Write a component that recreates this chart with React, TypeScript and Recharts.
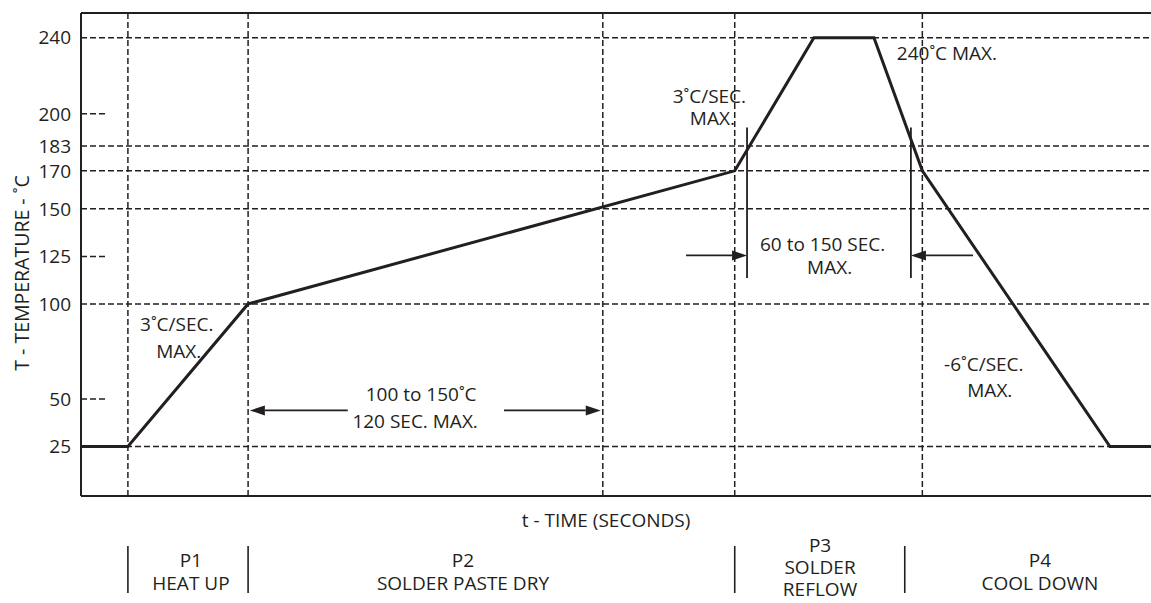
import React from 'react';
import { LineChart, Line, XAxis, YAxis, ReferenceLine, ReferenceDot } from 'recharts';

const INK = '#231f20';
const FONT = '"Open Sans", sans-serif';
const FS = 19;

// reflow profile: time (s) and temperature (°C)
const profileTime = [0, 16, 57, 223, 250, 270.5, 287, 351, 365];
const profileTemp = [25, 25, 100, 170, 240, 240, 170, 25, 25];

const tempTicks = [25, 50, 100, 125, 150, 170, 183, 200, 240];
const fullTempLines = [25, 100, 150, 170, 183, 240];
const shortTempLines = [50, 125, 200];
const timeLines = [16, 57, 178, 223, 287];

const phaseNames = ['P1', 'P2', 'P3', 'P4'];
const phaseDesc = [['HEAT UP'], ['SOLDER PASTE DRY'], ['SOLDER', 'REFLOW'], ['COOL DOWN']];
const phaseCenters = [37.5, 130.3, 252.1, 327.1];
const phaseBounds = [16, 57, 223, 281];

// annotation arrows (tail -> tip) and the marker bars
const arrows = [
  { from: [91, 44], to: [57.6, 44] },
  { from: [144.3, 44], to: [177.3, 44] },
  { from: [206.4, 125.5], to: [227.2, 125.5] },
  { from: [304.3, 125.5], to: [283.1, 125.5] },
];
const bars = [227.2, 283.1];
const barSpan = [113.6, 192.8];

// text blocks: anchor is the first line's centre
const notes = [
  { t: 33, temp: 89.2, lines: ['3˚C/SEC.', 'MAX.'], shift: [-1, 1], gap: 27 },
  { t: 115, temp: 52.4, lines: ['100 to 150˚C', '120 SEC. MAX.'], shift: [3, -3], gap: 27 },
  { t: 214.7, temp: 209.4, lines: ['3˚C/SEC.', 'MAX.'], shift: [-1, 2], gap: 22 },
  { t: 295.4, temp: 232, lines: ['240˚C MAX.'], shift: [0], gap: 0 },
  { t: 254, temp: 131.6, lines: ['60 to 150 SEC.', 'MAX.'], shift: [-3, 4], gap: 23 },
  { t: 309, temp: 68.3, lines: ['-6˚C/SEC.', 'MAX.'], shift: [-3, 3], gap: 26 },
];

const profile = profileTime.map((t, i) => ({ t, temp: profileTemp[i] }));

const textStyle = { fill: INK, fontSize: FS, fontFamily: FONT };

const arrowShape = (p: any) => {
  const { x1, y1, x2, y2 } = p;
  const dir = Math.sign(x2 - x1) || 1;
  const len = 15;
  const half = 5;
  return (
    <g>
      <line x1={x1} y1={y1} x2={x2 - dir * len} y2={y2} stroke={INK} strokeWidth={1.8} />
      <polygon
        points={`${x2},${y2} ${x2 - dir * len},${y2 - half} ${x2 - dir * len},${y2 + half}`}
        fill={INK}
      />
    </g>
  );
};

const PhaseTick = (props: any) => {
  const { x, y, payload } = props;
  const v = payload.value;
  if (phaseBounds.includes(v)) {
    return <line x1={x} y1={y + 50} x2={x} y2={y + 97} stroke={INK} strokeWidth={1.6} />;
  }
  const i = phaseCenters.indexOf(v);
  if (i < 0) return <g />;
  const lines = [phaseNames[i], ...phaseDesc[i]];
  const start = lines.length === 3 ? 49 : 64;
  const step = lines.length === 3 ? 22 : 23;
  return (
    <text x={x} y={y + start} textAnchor="middle" dominantBaseline="central" {...textStyle}>
      {lines.map((s, k) => (
        <tspan key={k} x={x} dy={k === 0 ? 0 : step}>
          {s}
        </tspan>
      ))}
    </text>
  );
};

const XLabel = (props: any) => {
  const vb = props.viewBox;
  return (
    <text x={vb.x + vb.width / 2 - 10} y={vb.y + 24} textAnchor="middle" dominantBaseline="central" {...textStyle}>
      t - TIME (SECONDS)
    </text>
  );
};

const YLabel = (props: any) => {
  const vb = props.viewBox;
  return (
    <text
      transform={`translate(${vb.x + 21}, ${vb.y + 260}) rotate(-90)`}
      textAnchor="middle"
      dominantBaseline="central"
      {...textStyle}
      fontSize={19.5}
    >
      T - TEMPERATURE - ˚C
    </text>
  );
};

const dash = { stroke: INK, strokeWidth: 1.5, strokeDasharray: '6 3' };

export default function App() {
  return (
    <div style={{ position: 'absolute', left: 0, top: 0, width: 1151, height: 603, background: '#fff' }}>
      <LineChart width={1151} height={603} data={profile} margin={{ top: 13, right: 0, bottom: 0, left: 0 }}>
        <XAxis
          type="number"
          dataKey="t"
          domain={[0, 365]}
          ticks={[...phaseCenters, ...phaseBounds]}
          interval={0}
          tick={(p: any) => <PhaseTick {...p} />}
          tickLine={false}
          tickSize={0}
          tickMargin={0}
          height={107}
          axisLine={{ stroke: INK, strokeWidth: 2 }}
          label={(p: any) => <XLabel {...p} />}
        />
        <YAxis
          type="number"
          domain={[-1, 253]}
          ticks={tempTicks}
          interval={0}
          width={81}
          tickLine={false}
          tickSize={0}
          tickMargin={10}
          axisLine={{ stroke: INK, strokeWidth: 2 }}
          tick={textStyle}
          label={(p: any) => <YLabel {...p} />}
        />
        <ReferenceLine y={253} stroke={INK} strokeWidth={2} ifOverflow="visible" />
        {fullTempLines.map((v) => (
          <ReferenceLine key={`h${v}`} y={v} {...dash} />
        ))}
        {shortTempLines.map((v) => (
          <ReferenceLine key={`s${v}`} segment={[{ x: 0, y: v }, { x: 8.5, y: v }]} {...dash} />
        ))}
        {timeLines.map((v) => (
          <ReferenceLine key={`v${v}`} x={v} {...dash} />
        ))}
        {bars.map((v) => (
          <ReferenceLine
            key={`b${v}`}
            segment={[{ x: v, y: barSpan[0] }, { x: v, y: barSpan[1] }]}
            stroke={INK}
            strokeWidth={1.8}
          />
        ))}
        {arrows.map((a, i) => (
          <ReferenceLine
            key={`a${i}`}
            segment={[{ x: a.from[0], y: a.from[1] }, { x: a.to[0], y: a.to[1] }]}
            shape={arrowShape}
          />
        ))}
        <Line
          type="linear"
          dataKey="temp"
          stroke={INK}
          strokeWidth={3}
          dot={false}
          isAnimationActive={false}
        />
        {notes.map((n, i) => (
          <ReferenceDot
            key={`n${i}`}
            x={n.t}
            y={n.temp}
            r={1}
            shape={(p: any) => (
              <text x={p.cx} y={p.cy} textAnchor="middle" dominantBaseline="central" {...textStyle}>
                {n.lines.map((s, k) => (
                  <tspan key={k} x={p.cx + n.shift[k]} dy={k === 0 ? 0 : n.gap}>
                    {s}
                  </tspan>
                ))}
              </text>
            )}
          />
        ))}
      </LineChart>
    </div>
  );
}
